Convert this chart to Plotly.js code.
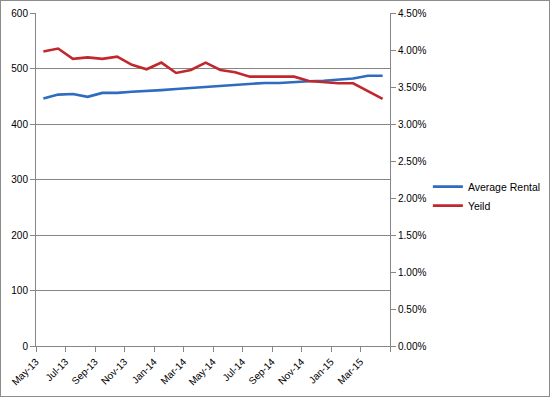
<!DOCTYPE html>
<html>
<head>
<meta charset="utf-8">
<script src="https://cdn.plot.ly/plotly-3.0.1.min.js"></script>
<style>
html,body{margin:0;padding:0;background:#fff;}
#chart{width:548px;height:395px;border:1px solid #8c8c8c;}
</style>
</head>
<body>
<div id="chart"></div>
<script>
const months = ["May-13","Jun-13","Jul-13","Aug-13","Sep-13","Oct-13","Nov-13","Dec-13",
  "Jan-14","Feb-14","Mar-14","Apr-14","May-14","Jun-14","Jul-14","Aug-14","Sep-14","Oct-14",
  "Nov-14","Dec-14","Jan-15","Feb-15","Mar-15","Apr-15"];
const averageRental = [446,453,454,449,456,456,458,459,461,463,465,467,469,471,473,474,474,476,477,478,480,482,487,487];
const yieldPct = [0.0398,0.0402,0.0388,0.0390,0.0388,0.0391,0.0380,0.0374,0.0383,0.0369,0.0373,0.0383,
  0.0373,0.0370,0.0364,0.0364,0.0364,0.0364,0.0358,0.0356,0.0355,0.0355,0.0344,0.0334];
const tickLabels = ["May-13","Jul-13","Sep-13","Nov-13","Jan-14","Mar-14","May-14","Jul-14","Sep-14","Nov-14","Jan-15","Mar-15",""];

const idx = months.map((m,i)=>i);
const tickPos = tickLabels.map((t,i)=>i*2-0.5);

const font = {family:"Liberation Sans, Arial, sans-serif", size:10, color:"#000"};
const traces = [
  {x: idx, y: averageRental, name: "Average Rental", type: "scatter", mode: "lines",
   line: {color: "#2f6cbf", width: 2.6}, yaxis: "y"},
  {x: idx, y: yieldPct, name: "Yeild", type: "scatter", mode: "lines",
   line: {color: "#c0282d", width: 2.6}, yaxis: "y2"}
];
const layout = {
  width: 548, height: 395,
  margin: {l: 35, r: 159, t: 12, b: 50, pad: 0, autoexpand: false},
  paper_bgcolor: "#fff", plot_bgcolor: "#fff",
  font: font,
  showlegend: true,
  legend: {x: 1.107, y: 0.45, xanchor: "left", yanchor: "middle", font: {family: font.family, size: 10.5, color:"#000"},
    itemwidth: 30, tracegroupgap: 4, bgcolor: "rgba(0,0,0,0)"},
  xaxis: {
    range: [-0.5, 23.5], tickmode: "array", tickvals: tickPos, ticktext: tickLabels,
    tickangle: -45, showgrid: false, zeroline: false, showline: true, linecolor: "#868686", linewidth: 1,
    ticks: "outside", ticklen: 5, tickcolor: "#868686", tickfont: font
  },
  yaxis: {
    range: [0, 600], tickvals: [0,100,200,300,400,500,600], showgrid: true, gridcolor: "#868686", gridwidth: 1,
    zeroline: false, showline: true, linecolor: "#868686", ticks: "outside", ticklen: 5, tickcolor: "#868686",
    tickfont: font
  },
  yaxis2: {
    overlaying: "y", side: "right", range: [0, 0.045], tickformat: ".2%", dtick: 0.005, tick0: 0,
    showgrid: false, zeroline: false, showline: true, linecolor: "#868686", ticks: "outside", ticklen: 5,
    tickcolor: "#868686", tickfont: font
  }
};
Plotly.newPlot("chart", traces, layout, {displayModeBar: false, staticPlot: true});
</script>
</body>
</html>
